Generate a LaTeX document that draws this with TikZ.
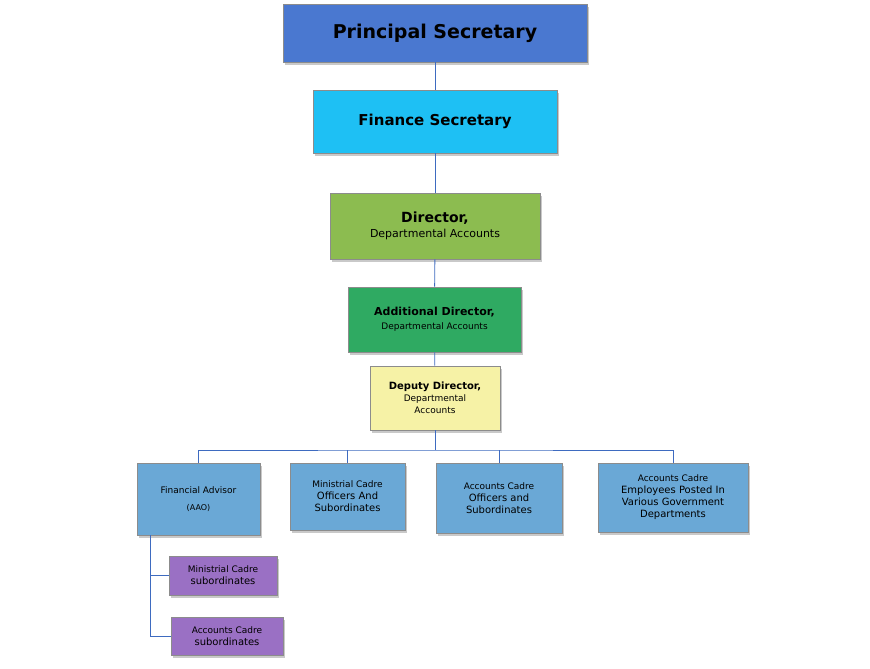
\documentclass[tikz,border=0pt]{standalone}
\usepackage{fontspec}
\setmainfont{DejaVu Sans}
\usetikzlibrary{shadows}
\definecolor{cps}{HTML}{4A78D0}
\definecolor{cfs}{HTML}{1EC0F4}
\definecolor{cdir}{HTML}{8CBC50}
\definecolor{cad}{HTML}{2FAA62}
\definecolor{cdd}{HTML}{F6F2A6}
\definecolor{cbl}{HTML}{6AA8D6}
\definecolor{cpu}{HTML}{9A70C4}
\definecolor{cln}{HTML}{3E6BC0}
\tikzset{
 bx/.style={draw=black!45,line width=0.8pt,inner sep=0pt,align=center,
   drop shadow={shadow xshift=2pt,shadow yshift=-3pt,fill=black!35,opacity=0.6}},
 ln/.style={draw=cln,line width=0.9pt}
}
\begin{document}
\begin{tikzpicture}[x=1pt,y=-1pt]
\useasboundingbox (0,0) rectangle (870,669);
\fill[white] (0,0) rectangle (870,669);
\newcommand{\bxat}[7]{\node[bx,fill=#6,minimum width=#3pt-#1pt,minimum height=#4pt-#2pt] (#5) at ({(#1+#3)/2},{(#2+#4)/2}) {#7};}
\bxat{283}{4}{587}{62}{ps}{cps}{\fontsize{19}{22}\selectfont\bfseries Principal Secretary}
\bxat{313}{90}{557}{153}{fs}{cfs}{\fontsize{15}{18}\selectfont\bfseries Finance Secretary}
\bxat{330}{193}{540}{259}{dir}{cdir}{{\fontsize{14}{18}\selectfont\bfseries Director,}\\[3pt]{\fontsize{11}{13}\selectfont Departmental Accounts}}
\bxat{348}{287}{521}{352}{ad}{cad}{{\fontsize{11}{14}\selectfont\bfseries Additional Director,}\\[2pt]{\fontsize{9}{11}\selectfont Departmental Accounts}}
\bxat{370}{366}{500}{430}{dd}{cdd}{{\fontsize{10}{13}\selectfont\bfseries Deputy Director,}\\{\fontsize{9}{11}\selectfont Departmental}\\{\fontsize{9}{11}\selectfont Accounts}}
\bxat{137}{463}{260}{535}{fa}{cbl}{{\fontsize{9}{11}\selectfont Financial Advisor}\\[5pt]{\fontsize{8}{10}\selectfont (AAO)}}
\bxat{290}{463}{405}{530}{mc}{cbl}{\fontsize{9}{10}\selectfont Ministrial Cadre\\Officers And\\Subordinates}
\bxat{436}{463}{562}{533}{ac}{cbl}{\fontsize{9}{10}\selectfont Accounts Cadre\\Officers and\\Subordinates}
\bxat{598}{463}{748}{532}{ae}{cbl}{\fontsize{9}{10}\selectfont Accounts Cadre\\Employees Posted In\\Various Government\\Departments}
\bxat{169}{556}{277}{595}{ms}{cpu}{\fontsize{9}{10}\selectfont Ministrial Cadre\\subordinates}
\bxat{171}{617}{283}{655}{as}{cpu}{\fontsize{9}{10}\selectfont Accounts Cadre\\subordinates}
\draw[ln] (ps) -- (fs);
\draw[ln] (fs) -- (dir);
\draw[ln] (dir) -- (ad);
\draw[ln] (ad) -- (dd);
\coordinate (bus) at (435,450);
\draw[ln] (dd.south) -- (bus);
\draw[ln] (fa.north) |- (bus) -| (ae.north);
\draw[ln] (mc.north) -- (mc.north |- bus);
\draw[ln] (ac.north) -- (ac.north |- bus);
\coordinate (tr) at (150,535);
\draw[ln] (tr) |- (as.west);
\draw[ln] (tr |- ms.west) -- (ms.west);
\end{tikzpicture}
\end{document}
